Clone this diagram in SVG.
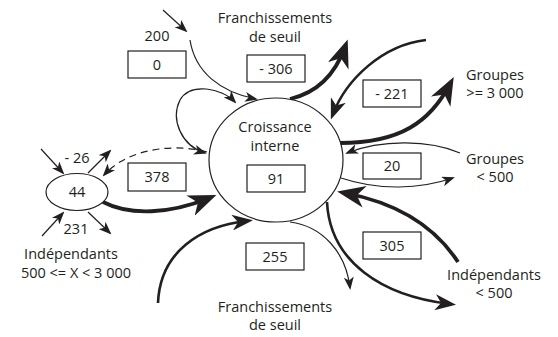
<svg xmlns="http://www.w3.org/2000/svg" width="558" height="337" viewBox="0 0 558 337">
<style>
text{font-family:"Open Sans","Liberation Sans",sans-serif;font-size:14.5px;fill:#231f20;text-anchor:middle}
.box{fill:#fff;stroke:#231f20;stroke-width:1.2}
.node{fill:#fff;stroke:#231f20;stroke-width:1.2}
.thin{fill:none;stroke:#231f20;stroke-width:1.2}
.mid{fill:none;stroke:#231f20;stroke-width:2.6}
.thick{fill:none;stroke:#231f20;stroke-width:3.8}
.dash{fill:none;stroke:#231f20;stroke-width:1.2;stroke-dasharray:7 5}
</style>
<defs>
<marker id="big" markerUnits="userSpaceOnUse" viewBox="0 0 28 22" markerWidth="28" markerHeight="22" refX="20" refY="11" orient="auto"><path d="M0,0 L28,11 L0,22 L8,11 z" fill="#231f20"/></marker>
<marker id="med" markerUnits="userSpaceOnUse" viewBox="0 0 21 16" markerWidth="21" markerHeight="16" refX="15" refY="8" orient="auto"><path d="M0,0 L21,8 L0,16 L6,8 z" fill="#231f20"/></marker>
<marker id="sm" markerUnits="userSpaceOnUse" viewBox="0 0 13 10" markerWidth="13" markerHeight="10" refX="11" refY="5" orient="auto-start-reverse"><path d="M0,0 L13,5 L0,10 L3.5,5 z" fill="#231f20"/></marker>
</defs>
<g id="connectors">
<path class="thin" d="M163,10 L186,31" marker-end="url(#sm)"/>
<path class="thin" d="M190,40 C195,72 220,92 256,99" marker-end="url(#sm)"/>
<path class="thin" d="M235,102 C222,88 190,82 180,100 C170,120 182,146 205,153" marker-start="url(#sm)" marker-end="url(#sm)"/>
<path class="dash" d="M207,152 C180,144 130,146 104,175" marker-end="url(#sm)"/>
<path class="thin" d="M88,173 L110,151" marker-end="url(#sm)"/>
<path class="thin" d="M41,149 L63,173" marker-end="url(#sm)"/>
<path class="thin" d="M42,236 L63,213" marker-end="url(#sm)"/>
<path class="thin" d="M88,212 L110,233" marker-end="url(#sm)"/>
<path class="thick" d="M103,202 C130,216 170,214 209,198" marker-end="url(#big)"/>
<path class="mid" d="M158,303 C160,252 200,226 247,221" marker-end="url(#med)"/>
<path class="thin" d="M290,222 C322,226 346,252 350,288" marker-end="url(#sm)"/>
<path class="mid" d="M327,202 C330,262 382,296 450,304" marker-end="url(#med)"/>
<path class="thick" d="M458,262 C432,222 392,202 345,193" marker-end="url(#big)"/>
<path class="thin" d="M341,178 C380,191 420,189 453,178" marker-end="url(#sm)"/>
<path class="thin" d="M460,153 C430,140 382,139 347,153" marker-end="url(#sm)"/>
<path class="thick" d="M340,143 C400,143 430,122 450,84" marker-end="url(#big)"/>
<path class="mid" d="M426,40 C382,45 346,80 333,114" marker-end="url(#med)"/>
<path class="thick" d="M290,99 C320,92 336,72 345,47" marker-end="url(#big)"/>
</g>
<g id="croissance">
<ellipse class="node" cx="276" cy="160" rx="67" ry="62"/>
<text x="275" y="132">Croissance</text>
<text x="275" y="151">interne</text>
<rect class="box" x="247" y="165" width="58" height="27"/>
<text x="276" y="184">91</text>
</g>
<g id="independants-mid">
<ellipse class="node" cx="77" cy="192" rx="31" ry="18.5"/>
<text x="77" y="197">44</text>
<text x="77" y="163">- 26</text>
<text x="76" y="234">231</text>
<text x="71" y="259">Indépendants</text>
<text x="76" y="278">500 &lt;= X &lt; 3 000</text>
</g>
<g id="franchissements-haut">
<text x="275" y="23">Franchissements</text>
<text x="275" y="42">de seuil</text>
</g>
<g id="franchissements-bas">
<text x="275" y="312">Franchissements</text>
<text x="275" y="330">de seuil</text>
</g>
<g id="groupes-3000">
<text x="495" y="80">Groupes</text>
<text x="495" y="98">&gt;= 3 000</text>
</g>
<g id="groupes-500">
<text x="495" y="164">Groupes</text>
<text x="495" y="182">&lt; 500</text>
</g>
<g id="independants-500">
<text x="494" y="280">Indépendants</text>
<text x="494" y="298">&lt; 500</text>
</g>
<g id="label-200">
<text x="157" y="41">200</text>
</g>
<g id="box-0">
<rect class="box" x="128" y="51" width="58" height="27"/>
<text x="157" y="70">0</text>
</g>
<g id="box-306">
<rect class="box" x="247" y="55" width="58" height="27"/>
<text x="276" y="74">- 306</text>
</g>
<g id="box-221">
<rect class="box" x="363" y="80" width="58" height="27"/>
<text x="392" y="99">- 221</text>
</g>
<g id="box-20">
<rect class="box" x="363" y="153" width="58" height="26"/>
<text x="392" y="171">20</text>
</g>
<g id="box-378">
<rect class="box" x="128" y="163" width="58" height="28"/>
<text x="157" y="182">378</text>
</g>
<g id="box-305">
<rect class="box" x="363" y="232" width="58" height="27"/>
<text x="392" y="251">305</text>
</g>
<g id="box-255">
<rect class="box" x="246" y="243" width="58" height="27"/>
<text x="275" y="262">255</text>
</g>
</svg>
